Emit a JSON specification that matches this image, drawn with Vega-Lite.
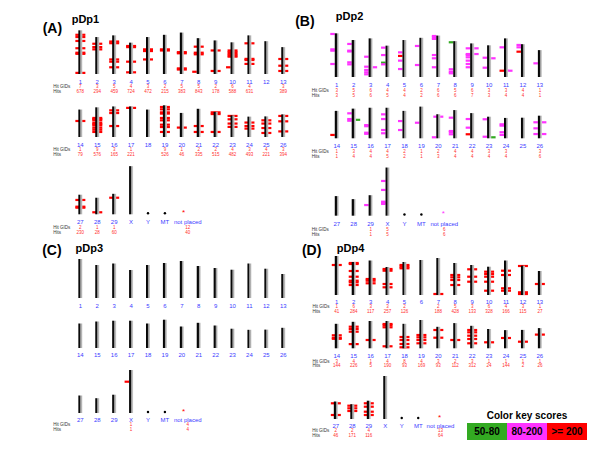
{
"$schema": "https://vega.github.io/schema/vega-lite/v6.json",
"padding": 0,
"background": "white",
"bounds": "flush",
"columns": 2,
"spacing": 0,
"config": {"view": {"stroke": null}, "concat": {"spacing": 0}},
"datasets": {
"chroms": [
{"r":1,"i":1,"v":39},{"r":1,"i":2,"v":33},{"r":1,"i":3,"v":34.5},{"r":1,"i":4,"v":28},{"r":1,"i":5,"v":33},{"r":1,"i":6,"v":35},{"r":1,"i":7,"v":37},{"r":1,"i":8,"v":32},{"r":1,"i":9,"v":30},{"r":1,"i":10,"v":28.3},{"r":1,"i":11,"v":34.5},{"r":1,"i":12,"v":29.3},{"r":1,"i":13,"v":24},
{"r":2,"i":1,"v":24.5},{"r":2,"i":2,"v":26.5},{"r":2,"i":3,"v":27.3},{"r":2,"i":4,"v":27.3},{"r":2,"i":5,"v":24.5},{"r":2,"i":6,"v":28.3},{"r":2,"i":7,"v":21.5},{"r":2,"i":8,"v":25.2},{"r":2,"i":9,"v":22.5},{"r":2,"i":10,"v":19.3},{"r":2,"i":11,"v":18.2},{"r":2,"i":12,"v":18.4},{"r":2,"i":13,"v":20.2},
{"r":3,"i":1,"v":17.5},{"r":3,"i":2,"v":14.8},{"r":3,"i":3,"v":18.3},{"r":3,"i":4,"v":43},{"r":3,"i":5,"v":0},{"r":3,"i":6,"v":0}
],
"names": [
{"r":1,"i":1,"t":"1"},{"r":1,"i":2,"t":"2"},{"r":1,"i":3,"t":"3"},{"r":1,"i":4,"t":"4"},{"r":1,"i":5,"t":"5"},{"r":1,"i":6,"t":"6"},{"r":1,"i":7,"t":"7"},{"r":1,"i":8,"t":"8"},{"r":1,"i":9,"t":"9"},{"r":1,"i":10,"t":"10"},{"r":1,"i":11,"t":"11"},{"r":1,"i":12,"t":"12"},{"r":1,"i":13,"t":"13"},
{"r":2,"i":1,"t":"14"},{"r":2,"i":2,"t":"15"},{"r":2,"i":3,"t":"16"},{"r":2,"i":4,"t":"17"},{"r":2,"i":5,"t":"18"},{"r":2,"i":6,"t":"19"},{"r":2,"i":7,"t":"20"},{"r":2,"i":8,"t":"21"},{"r":2,"i":9,"t":"22"},{"r":2,"i":10,"t":"23"},{"r":2,"i":11,"t":"24"},{"r":2,"i":12,"t":"25"},{"r":2,"i":13,"t":"26"},
{"r":3,"i":1,"t":"27"},{"r":3,"i":2,"t":"28"},{"r":3,"i":3,"t":"29"},{"r":3,"i":4,"t":"X"},{"r":3,"i":5,"t":"Y"},{"r":3,"i":6,"t":"MT"},{"r":3,"i":7.35,"t":"not placed"}
],
"counts": [
{"p":"A","r":1,"i":1,"g":"7","h":"678"},{"p":"A","r":1,"i":2,"g":"3","h":"294"},{"p":"A","r":1,"i":3,"g":"5","h":"459"},{"p":"A","r":1,"i":4,"g":"4","h":"724"},{"p":"A","r":1,"i":5,"g":"3","h":"472"},{"p":"A","r":1,"i":6,"g":"2","h":"215"},{"p":"A","r":1,"i":7,"g":"5","h":"383"},{"p":"A","r":1,"i":8,"g":"5","h":"843"},{"p":"A","r":1,"i":9,"g":"2","h":"178"},{"p":"A","r":1,"i":10,"g":"6","h":"588"},{"p":"A","r":1,"i":11,"g":"4","h":"631"},{"p":"A","r":1,"i":13,"g":"3","h":"389"},
{"p":"A","r":2,"i":1,"g":"1","h":"79"},{"p":"A","r":2,"i":2,"g":"9","h":"576"},{"p":"A","r":2,"i":3,"g":"3","h":"165"},{"p":"A","r":2,"i":4,"g":"1","h":"221"},{"p":"A","r":2,"i":6,"g":"9","h":"526"},{"p":"A","r":2,"i":7,"g":"1","h":"46"},{"p":"A","r":2,"i":8,"g":"2","h":"335"},{"p":"A","r":2,"i":9,"g":"2","h":"515"},{"p":"A","r":2,"i":10,"g":"4","h":"482"},{"p":"A","r":2,"i":11,"g":"3","h":"493"},{"p":"A","r":2,"i":12,"g":"4","h":"221"},{"p":"A","r":2,"i":13,"g":"3","h":"394"},
{"p":"A","r":3,"i":1,"g":"2","h":"230"},{"p":"A","r":3,"i":2,"g":"1","h":"28"},{"p":"A","r":3,"i":3,"g":"1","h":"60"},{"p":"A","r":3,"i":7.35,"g":"12","h":"40"},
{"p":"B","r":1,"i":1,"g":"3","h":"3"},{"p":"B","r":1,"i":2,"g":"5","h":"5"},{"p":"B","r":1,"i":3,"g":"6","h":"6"},{"p":"B","r":1,"i":4,"g":"4","h":"5"},{"p":"B","r":1,"i":5,"g":"4","h":"4"},{"p":"B","r":1,"i":6,"g":"2","h":"2"},{"p":"B","r":1,"i":7,"g":"6","h":"6"},{"p":"B","r":1,"i":8,"g":"5","h":"6"},{"p":"B","r":1,"i":9,"g":"6","h":"7"},{"p":"B","r":1,"i":10,"g":"3","h":"3"},{"p":"B","r":1,"i":11,"g":"3","h":"4"},{"p":"B","r":1,"i":12,"g":"4","h":"4"},{"p":"B","r":1,"i":13,"g":"1","h":"1"},
{"p":"B","r":2,"i":1,"g":"1","h":"1"},{"p":"B","r":2,"i":2,"g":"3","h":"4"},{"p":"B","r":2,"i":3,"g":"4","h":"4"},{"p":"B","r":2,"i":4,"g":"4","h":"5"},{"p":"B","r":2,"i":5,"g":"2","h":"2"},{"p":"B","r":2,"i":6,"g":"1","h":"1"},{"p":"B","r":2,"i":7,"g":"2","h":"3"},{"p":"B","r":2,"i":8,"g":"4","h":"4"},{"p":"B","r":2,"i":9,"g":"4","h":"4"},{"p":"B","r":2,"i":10,"g":"3","h":"4"},{"p":"B","r":2,"i":11,"g":"3","h":"4"},{"p":"B","r":2,"i":13,"g":"3","h":"6"},
{"p":"B","r":3,"i":3,"g":"1","h":"1"},{"p":"B","r":3,"i":4,"g":"5","h":"5"},{"p":"B","r":3,"i":7.35,"g":"6","h":"6"},
{"p":"C","r":3,"i":4,"g":"1","h":"1"},{"p":"C","r":3,"i":7.35,"g":"4","h":"4"},
{"p":"D","r":1,"i":1,"g":"1","h":"41"},{"p":"D","r":1,"i":2,"g":"6","h":"284"},{"p":"D","r":1,"i":3,"g":"3","h":"117"},{"p":"D","r":1,"i":4,"g":"3","h":"257"},{"p":"D","r":1,"i":5,"g":"2","h":"126"},{"p":"D","r":1,"i":7,"g":"2","h":"188"},{"p":"D","r":1,"i":8,"g":"5","h":"428"},{"p":"D","r":1,"i":9,"g":"3","h":"133"},{"p":"D","r":1,"i":10,"g":"6","h":"328"},{"p":"D","r":1,"i":11,"g":"4","h":"166"},{"p":"D","r":1,"i":12,"g":"3","h":"115"},{"p":"D","r":1,"i":13,"g":"1","h":"27"},
{"p":"D","r":2,"i":1,"g":"3","h":"144"},{"p":"D","r":2,"i":2,"g":"4","h":"226"},{"p":"D","r":2,"i":3,"g":"1","h":"5"},{"p":"D","r":2,"i":4,"g":"4","h":"190"},{"p":"D","r":2,"i":5,"g":"8","h":"93"},{"p":"D","r":2,"i":6,"g":"4","h":"169"},{"p":"D","r":2,"i":7,"g":"3","h":"93"},{"p":"D","r":2,"i":8,"g":"2","h":"112"},{"p":"D","r":2,"i":9,"g":"3","h":"312"},{"p":"D","r":2,"i":10,"g":"1","h":"24"},{"p":"D","r":2,"i":11,"g":"1","h":"144"},{"p":"D","r":2,"i":12,"g":"1","h":"2"},{"p":"D","r":2,"i":13,"g":"1","h":"26"},
{"p":"D","r":3,"i":1,"g":"2","h":"46"},{"p":"D","r":3,"i":2,"g":"2","h":"171"},{"p":"D","r":3,"i":3,"g":"4","h":"116"},{"p":"D","r":3,"i":7.35,"g":"13","h":"64"}
],
"hits": [
{"p":"A","r":1,"i":1,"v":35,"s":"B","c":"r"},{"p":"A","r":1,"i":1,"v":33,"s":"B","c":"r"},{"p":"A","r":1,"i":1,"v":29.5,"s":"B","c":"r"},{"p":"A","r":1,"i":1,"v":23,"s":"B","c":"r"},{"p":"A","r":1,"i":1,"v":19,"s":"B","c":"r"},{"p":"A","r":1,"i":1,"v":18,"s":"B","c":"r"},{"p":"A","r":1,"i":1,"v":1,"s":"B","c":"r"},
{"p":"A","r":1,"i":2,"v":27,"s":"B","c":"r"},{"p":"A","r":1,"i":2,"v":24,"s":"B","c":"r"},{"p":"A","r":1,"i":2,"v":22,"s":"B","c":"r"},
{"p":"A","r":1,"i":3,"v":29,"s":"B","c":"r"},{"p":"A","r":1,"i":3,"v":27.5,"s":"B","c":"r"},{"p":"A","r":1,"i":3,"v":13,"s":"B","c":"r"},{"p":"A","r":1,"i":3,"v":11,"s":"B","c":"r"},{"p":"A","r":1,"i":3,"v":6,"s":"B","c":"r"},
{"p":"A","r":1,"i":4,"v":25,"s":"B","c":"r"},{"p":"A","r":1,"i":4,"v":24,"s":"B","c":"r"},{"p":"A","r":1,"i":4,"v":11,"s":"B","c":"r"},{"p":"A","r":1,"i":4,"v":1.5,"s":"B","c":"r"},
{"p":"A","r":1,"i":5,"v":22,"s":"B","c":"r"},{"p":"A","r":1,"i":5,"v":20.5,"s":"B","c":"r"},{"p":"A","r":1,"i":5,"v":13,"s":"B","c":"r"},
{"p":"A","r":1,"i":6,"v":22,"s":"B","c":"r"},{"p":"A","r":1,"i":6,"v":21,"s":"B","c":"r"},
{"p":"A","r":1,"i":7,"v":19.5,"s":"B","c":"r"},{"p":"A","r":1,"i":7,"v":18.5,"s":"B","c":"r"},{"p":"A","r":1,"i":7,"v":5,"s":"B","c":"r"},{"p":"A","r":1,"i":7,"v":4,"s":"B","c":"r"},
{"p":"A","r":1,"i":8,"v":24.4,"s":"B","c":"r"},{"p":"A","r":1,"i":8,"v":19,"s":"B","c":"r"},{"p":"A","r":1,"i":8,"v":17.6,"s":"B","c":"r"},{"p":"A","r":1,"i":8,"v":2,"s":"L","c":"r"},
{"p":"A","r":1,"i":9,"v":21,"s":"B","c":"r"},{"p":"A","r":1,"i":9,"v":2.7,"s":"B","c":"r"},
{"p":"A","r":1,"i":10,"v":21,"s":"B","c":"r"},{"p":"A","r":1,"i":10,"v":19.5,"s":"B","c":"r"},{"p":"A","r":1,"i":10,"v":18,"s":"B","c":"r"},{"p":"A","r":1,"i":10,"v":16.5,"s":"B","c":"r"},{"p":"A","r":1,"i":10,"v":15.5,"s":"B","c":"r"},{"p":"A","r":1,"i":10,"v":6,"s":"L","c":"r"},
{"p":"A","r":1,"i":11,"v":27.4,"s":"B","c":"r"},{"p":"A","r":1,"i":11,"v":13.5,"s":"B","c":"r"},{"p":"A","r":1,"i":11,"v":12.5,"s":"B","c":"r"},{"p":"A","r":1,"i":11,"v":9,"s":"B","c":"r"},
{"p":"A","r":1,"i":13,"v":13.4,"s":"B","c":"r"},{"p":"A","r":1,"i":13,"v":7.4,"s":"B","c":"r"},{"p":"A","r":1,"i":13,"v":2.7,"s":"B","c":"r"},
{"p":"A","r":2,"i":1,"v":14.3,"s":"B","c":"r"},
{"p":"A","r":2,"i":2,"v":17,"s":"B","c":"r"},{"p":"A","r":2,"i":2,"v":16,"s":"B","c":"r"},{"p":"A","r":2,"i":2,"v":15,"s":"B","c":"r"},{"p":"A","r":2,"i":2,"v":12.8,"s":"B","c":"r"},{"p":"A","r":2,"i":2,"v":11.5,"s":"B","c":"r"},{"p":"A","r":2,"i":2,"v":10.4,"s":"B","c":"r"},{"p":"A","r":2,"i":2,"v":8.3,"s":"B","c":"r"},{"p":"A","r":2,"i":2,"v":6.5,"s":"B","c":"r"},{"p":"A","r":2,"i":2,"v":4.5,"s":"B","c":"r"},
{"p":"A","r":2,"i":3,"v":23.8,"s":"B","c":"r"},{"p":"A","r":2,"i":3,"v":21.4,"s":"B","c":"r"},{"p":"A","r":2,"i":3,"v":9.8,"s":"B","c":"r"},
{"p":"A","r":2,"i":4,"v":26,"s":"B","c":"r"},
{"p":"A","r":2,"i":6,"v":26.8,"s":"B","c":"r"},{"p":"A","r":2,"i":6,"v":24.7,"s":"B","c":"r"},{"p":"A","r":2,"i":6,"v":22,"s":"B","c":"r"},{"p":"A","r":2,"i":6,"v":20.9,"s":"B","c":"r"},{"p":"A","r":2,"i":6,"v":17,"s":"B","c":"r"},{"p":"A","r":2,"i":6,"v":14.9,"s":"B","c":"r"},{"p":"A","r":2,"i":6,"v":11,"s":"B","c":"r"},{"p":"A","r":2,"i":6,"v":8.9,"s":"B","c":"r"},{"p":"A","r":2,"i":6,"v":4.5,"s":"B","c":"r"},
{"p":"A","r":2,"i":7,"v":8.4,"s":"B","c":"r"},
{"p":"A","r":2,"i":8,"v":9.8,"s":"B","c":"r"},{"p":"A","r":2,"i":8,"v":4.5,"s":"B","c":"r"},
{"p":"A","r":2,"i":9,"v":22,"s":"B","c":"r"},{"p":"A","r":2,"i":9,"v":20.5,"s":"B","c":"r"},{"p":"A","r":2,"i":9,"v":4.5,"s":"B","c":"r"},
{"p":"A","r":2,"i":10,"v":18.8,"s":"B","c":"r"},{"p":"A","r":2,"i":10,"v":15.8,"s":"B","c":"r"},{"p":"A","r":2,"i":10,"v":12,"s":"B","c":"r"},{"p":"A","r":2,"i":10,"v":9,"s":"B","c":"r"},
{"p":"A","r":2,"i":11,"v":12.9,"s":"B","c":"r"},{"p":"A","r":2,"i":11,"v":9.8,"s":"B","c":"r"},{"p":"A","r":2,"i":11,"v":7.5,"s":"B","c":"r"},
{"p":"A","r":2,"i":12,"v":14.9,"s":"B","c":"r"},{"p":"A","r":2,"i":12,"v":12,"s":"B","c":"r"},{"p":"A","r":2,"i":12,"v":8,"s":"B","c":"r"},{"p":"A","r":2,"i":12,"v":3.6,"s":"B","c":"r"},
{"p":"A","r":2,"i":13,"v":18.8,"s":"B","c":"r"},{"p":"A","r":2,"i":13,"v":14,"s":"B","c":"r"},{"p":"A","r":2,"i":13,"v":5,"s":"B","c":"r"},
{"p":"A","r":3,"i":1,"v":12.8,"s":"B","c":"r"},{"p":"A","r":3,"i":1,"v":6.8,"s":"B","c":"r"},{"p":"A","r":3,"i":1,"v":5.9,"s":"B","c":"r"},{"p":"A","r":3,"i":2,"v":1.8,"s":"B","c":"r"},{"p":"A","r":3,"i":3,"v":14.8,"s":"B","c":"r"},
{"p":"A","r":3,"i":7.1,"v":1.5,"s":"*","c":"r"},
{"p":"B","r":1,"i":1,"v":38.4,"s":"L","c":"m"},{"p":"B","r":1,"i":1,"v":24.7,"s":"L","c":"m"},{"p":"B","r":1,"i":1,"v":23.5,"s":"L","c":"m"},{"p":"B","r":1,"i":1,"v":11.6,"s":"L","c":"m"},
{"p":"B","r":1,"i":2,"v":29.5,"s":"L","c":"m"},{"p":"B","r":1,"i":2,"v":23.5,"s":"L","c":"m"},{"p":"B","r":1,"i":2,"v":22.8,"s":"L","c":"m"},{"p":"B","r":1,"i":2,"v":13.1,"s":"L","c":"m"},{"p":"B","r":1,"i":2,"v":11.3,"s":"L","c":"m"},
{"p":"B","r":1,"i":3,"v":18.1,"s":"L","c":"m"},{"p":"B","r":1,"i":3,"v":9.2,"s":"L","c":"m"},{"p":"B","r":1,"i":3,"v":8.7,"s":"R","c":"m"},{"p":"B","r":1,"i":3,"v":6.3,"s":"L","c":"m"},{"p":"B","r":1,"i":3,"v":4.2,"s":"L","c":"m"},{"p":"B","r":1,"i":3,"v":2.4,"s":"L","c":"m"},
{"p":"B","r":1,"i":4,"v":26.2,"s":"L","c":"m"},{"p":"B","r":1,"i":4,"v":19.6,"s":"L","c":"m"},{"p":"B","r":1,"i":4,"v":12.8,"s":"L","c":"g"},{"p":"B","r":1,"i":4,"v":11.3,"s":"L","c":"m"},
{"p":"B","r":1,"i":5,"v":22,"s":"L","c":"m"},{"p":"B","r":1,"i":5,"v":18.8,"s":"L","c":"r"},{"p":"B","r":1,"i":5,"v":14.6,"s":"L","c":"m"},{"p":"B","r":1,"i":5,"v":7.1,"s":"L","c":"m"},
{"p":"B","r":1,"i":6,"v":27.7,"s":"L","c":"m"},{"p":"B","r":1,"i":6,"v":10.7,"s":"L","c":"m"},
{"p":"B","r":1,"i":7,"v":36.6,"s":"L","c":"m"},{"p":"B","r":1,"i":7,"v":35.4,"s":"L","c":"m"},{"p":"B","r":1,"i":7,"v":34,"s":"L","c":"m"},{"p":"B","r":1,"i":7,"v":19.6,"s":"L","c":"m"},{"p":"B","r":1,"i":7,"v":16.7,"s":"L","c":"m"},{"p":"B","r":1,"i":7,"v":8.7,"s":"L","c":"m"},
{"p":"B","r":1,"i":8,"v":31,"s":"L","c":"g"},{"p":"B","r":1,"i":8,"v":6.9,"s":"L","c":"m"},{"p":"B","r":1,"i":8,"v":4.7,"s":"L","c":"m"},{"p":"B","r":1,"i":8,"v":3.3,"s":"L","c":"m"},
{"p":"B","r":1,"i":9,"v":25.6,"s":"L","c":"m"},{"p":"B","r":1,"i":9,"v":25.6,"s":"R","c":"m"},{"p":"B","r":1,"i":9,"v":20.5,"s":"L","c":"m"},{"p":"B","r":1,"i":9,"v":20.5,"s":"R","c":"m"},{"p":"B","r":1,"i":9,"v":19.6,"s":"L","c":"m"},{"p":"B","r":1,"i":9,"v":17.6,"s":"L","c":"m"},{"p":"B","r":1,"i":9,"v":14.6,"s":"L","c":"m"},{"p":"B","r":1,"i":9,"v":11.6,"s":"L","c":"m"},{"p":"B","r":1,"i":9,"v":8.7,"s":"L","c":"m"},
{"p":"B","r":1,"i":10,"v":17.2,"s":"L","c":"m"},{"p":"B","r":1,"i":10,"v":16.7,"s":"R","c":"m"},{"p":"B","r":1,"i":10,"v":8.3,"s":"L","c":"m"},
{"p":"B","r":1,"i":11,"v":26.5,"s":"L","c":"m"},{"p":"B","r":1,"i":11,"v":5.6,"s":"L","c":"r"},{"p":"B","r":1,"i":11,"v":5.6,"s":"R","c":"m"},
{"p":"B","r":1,"i":12,"v":28.6,"s":"L","c":"m"},{"p":"B","r":1,"i":12,"v":26.5,"s":"L","c":"m"},{"p":"B","r":1,"i":12,"v":22.6,"s":"L","c":"r"},
{"p":"B","r":1,"i":13,"v":12.2,"s":"L","c":"m"},
{"p":"B","r":2,"i":1,"v":3,"s":"L","c":"r"},
{"p":"B","r":2,"i":2,"v":22.3,"s":"L","c":"m"},{"p":"B","r":2,"i":2,"v":17.2,"s":"L","c":"m"},{"p":"B","r":2,"i":2,"v":15.7,"s":"L","c":"m"},{"p":"B","r":2,"i":2,"v":16.5,"s":"R","c":"g"},
{"p":"B","r":2,"i":3,"v":11.8,"s":"L","c":"m"},{"p":"B","r":2,"i":3,"v":10.8,"s":"L","c":"m"},{"p":"B","r":2,"i":3,"v":5,"s":"L","c":"m"},{"p":"B","r":2,"i":3,"v":4,"s":"L","c":"m"},
{"p":"B","r":2,"i":4,"v":21.4,"s":"L","c":"m"},{"p":"B","r":2,"i":4,"v":17.2,"s":"L","c":"m"},{"p":"B","r":2,"i":4,"v":7.4,"s":"L","c":"m"},{"p":"B","r":2,"i":4,"v":4.5,"s":"L","c":"m"},
{"p":"B","r":2,"i":5,"v":15.4,"s":"L","c":"m"},{"p":"B","r":2,"i":5,"v":7.4,"s":"L","c":"m"},
{"p":"B","r":2,"i":6,"v":13.9,"s":"L","c":"m"},
{"p":"B","r":2,"i":7,"v":19.3,"s":"B","c":"m"},{"p":"B","r":2,"i":7,"v":0.9,"s":"L","c":"m"},
{"p":"B","r":2,"i":8,"v":18.4,"s":"L","c":"m"},{"p":"B","r":2,"i":8,"v":6.5,"s":"L","c":"m"},{"p":"B","r":2,"i":8,"v":5.5,"s":"L","c":"m"},{"p":"B","r":2,"i":8,"v":3.6,"s":"L","c":"m"},
{"p":"B","r":2,"i":9,"v":17.2,"s":"L","c":"m"},{"p":"B","r":2,"i":9,"v":9.5,"s":"L","c":"m"},{"p":"B","r":2,"i":9,"v":3.6,"s":"L","c":"r"},
{"p":"B","r":2,"i":10,"v":17,"s":"L","c":"m"},{"p":"B","r":2,"i":10,"v":1.4,"s":"L","c":"m"},{"p":"B","r":2,"i":10,"v":0.9,"s":"R","c":"g"},
{"p":"B","r":2,"i":11,"v":12.5,"s":"L","c":"m"},{"p":"B","r":2,"i":11,"v":11.3,"s":"L","c":"m"},{"p":"B","r":2,"i":11,"v":5.4,"s":"L","c":"m"},{"p":"B","r":2,"i":11,"v":3,"s":"L","c":"m"},
{"p":"B","r":2,"i":13,"v":14.3,"s":"L","c":"m"},{"p":"B","r":2,"i":13,"v":14.3,"s":"R","c":"m"},{"p":"B","r":2,"i":13,"v":8.9,"s":"L","c":"m"},{"p":"B","r":2,"i":13,"v":3.8,"s":"L","c":"m"},{"p":"B","r":2,"i":13,"v":3.8,"s":"R","c":"m"},
{"p":"B","r":3,"i":3,"v":9.5,"s":"L","c":"m"},
{"p":"B","r":3,"i":4,"v":31,"s":"L","c":"m"},{"p":"B","r":3,"i":4,"v":23,"s":"L","c":"m"},{"p":"B","r":3,"i":4,"v":12.5,"s":"L","c":"m"},{"p":"B","r":3,"i":4,"v":11.5,"s":"L","c":"m"},{"p":"B","r":3,"i":4,"v":10.5,"s":"L","c":"m"},
{"p":"B","r":3,"i":7.3,"v":1.5,"s":"*","c":"m"},
{"p":"C","r":3,"i":4,"v":31.3,"s":"L","c":"r"},
{"p":"C","r":3,"i":7.1,"v":1.5,"s":"*","c":"r"},
{"p":"D","r":1,"i":1,"v":30,"s":"B","c":"r"},
{"p":"D","r":1,"i":2,"v":32,"s":"B","c":"r"},{"p":"D","r":1,"i":2,"v":31,"s":"B","c":"r"},{"p":"D","r":1,"i":2,"v":24,"s":"B","c":"r"},{"p":"D","r":1,"i":2,"v":18.3,"s":"B","c":"r"},{"p":"D","r":1,"i":2,"v":14.3,"s":"B","c":"r"},{"p":"D","r":1,"i":2,"v":12.7,"s":"B","c":"r"},{"p":"D","r":1,"i":2,"v":10,"s":"B","c":"r"},
{"p":"D","r":1,"i":3,"v":16,"s":"B","c":"r"},{"p":"D","r":1,"i":3,"v":14.3,"s":"B","c":"r"},{"p":"D","r":1,"i":3,"v":11.7,"s":"B","c":"r"},
{"p":"D","r":1,"i":4,"v":26,"s":"B","c":"r"},{"p":"D","r":1,"i":4,"v":24.3,"s":"B","c":"r"},{"p":"D","r":1,"i":4,"v":11,"s":"B","c":"r"},{"p":"D","r":1,"i":4,"v":7.7,"s":"B","c":"r"},
{"p":"D","r":1,"i":5,"v":30,"s":"B","c":"r"},{"p":"D","r":1,"i":5,"v":28.3,"s":"B","c":"r"},{"p":"D","r":1,"i":5,"v":26.7,"s":"B","c":"r"},
{"p":"D","r":1,"i":7,"v":1,"s":"B","c":"r"},
{"p":"D","r":1,"i":8,"v":20,"s":"B","c":"r"},{"p":"D","r":1,"i":8,"v":17.7,"s":"B","c":"r"},{"p":"D","r":1,"i":8,"v":15,"s":"B","c":"r"},{"p":"D","r":1,"i":8,"v":10,"s":"B","c":"r"},
{"p":"D","r":1,"i":9,"v":25.7,"s":"B","c":"r"},{"p":"D","r":1,"i":9,"v":18.3,"s":"B","c":"r"},{"p":"D","r":1,"i":9,"v":13.3,"s":"B","c":"r"},
{"p":"D","r":1,"i":10,"v":23.3,"s":"B","c":"r"},{"p":"D","r":1,"i":10,"v":21,"s":"B","c":"r"},{"p":"D","r":1,"i":10,"v":18.3,"s":"B","c":"r"},{"p":"D","r":1,"i":10,"v":13.3,"s":"B","c":"r"},{"p":"D","r":1,"i":10,"v":4.3,"s":"B","c":"r"},
{"p":"D","r":1,"i":11,"v":24.3,"s":"B","c":"r"},{"p":"D","r":1,"i":11,"v":20,"s":"B","c":"r"},{"p":"D","r":1,"i":11,"v":6.7,"s":"B","c":"r"},{"p":"D","r":1,"i":11,"v":4.3,"s":"B","c":"r"},
{"p":"D","r":1,"i":12,"v":29,"s":"B","c":"r"},{"p":"D","r":1,"i":12,"v":2.7,"s":"B","c":"r"},{"p":"D","r":1,"i":12,"v":1,"s":"B","c":"r"},
{"p":"D","r":1,"i":13,"v":11,"s":"B","c":"r"},
{"p":"D","r":2,"i":1,"v":13,"s":"B","c":"r"},{"p":"D","r":2,"i":1,"v":10.5,"s":"B","c":"r"},{"p":"D","r":2,"i":1,"v":9.5,"s":"B","c":"r"},
{"p":"D","r":2,"i":2,"v":21.6,"s":"B","c":"r"},{"p":"D","r":2,"i":2,"v":19.3,"s":"B","c":"r"},{"p":"D","r":2,"i":2,"v":16.6,"s":"B","c":"r"},{"p":"D","r":2,"i":2,"v":4.2,"s":"B","c":"r"},
{"p":"D","r":2,"i":3,"v":8.3,"s":"B","c":"r"},
{"p":"D","r":2,"i":4,"v":24.3,"s":"B","c":"r"},{"p":"D","r":2,"i":4,"v":23,"s":"B","c":"r"},{"p":"D","r":2,"i":4,"v":21,"s":"B","c":"r"},{"p":"D","r":2,"i":4,"v":2,"s":"B","c":"r"},
{"p":"D","r":2,"i":5,"v":11.3,"s":"B","c":"r"},{"p":"D","r":2,"i":5,"v":8.3,"s":"B","c":"r"},{"p":"D","r":2,"i":5,"v":4.3,"s":"B","c":"r"},{"p":"D","r":2,"i":5,"v":1,"s":"B","c":"r"},
{"p":"D","r":2,"i":6,"v":13.3,"s":"B","c":"r"},{"p":"D","r":2,"i":6,"v":11,"s":"B","c":"r"},{"p":"D","r":2,"i":6,"v":8.3,"s":"B","c":"r"},{"p":"D","r":2,"i":6,"v":5,"s":"B","c":"r"},
{"p":"D","r":2,"i":7,"v":18.3,"s":"B","c":"r"},{"p":"D","r":2,"i":7,"v":10.6,"s":"B","c":"r"},
{"p":"D","r":2,"i":8,"v":8.3,"s":"B","c":"r"},
{"p":"D","r":2,"i":9,"v":18.3,"s":"B","c":"r"},{"p":"D","r":2,"i":9,"v":16,"s":"B","c":"r"},{"p":"D","r":2,"i":9,"v":12.6,"s":"B","c":"r"},{"p":"D","r":2,"i":9,"v":9.3,"s":"B","c":"r"},{"p":"D","r":2,"i":9,"v":5,"s":"B","c":"r"},
{"p":"D","r":2,"i":10,"v":6,"s":"B","c":"r"},
{"p":"D","r":2,"i":11,"v":10.3,"s":"B","c":"r"},
{"p":"D","r":2,"i":12,"v":6.6,"s":"B","c":"r"},
{"p":"D","r":2,"i":13,"v":13.7,"s":"B","c":"r"},
{"p":"D","r":3,"i":1,"v":15.7,"s":"B","c":"r"},{"p":"D","r":3,"i":1,"v":4,"s":"B","c":"r"},
{"p":"D","r":3,"i":2,"v":13.3,"s":"B","c":"r"},{"p":"D","r":3,"i":2,"v":10.7,"s":"B","c":"r"},{"p":"D","r":3,"i":2,"v":8,"s":"B","c":"r"},
{"p":"D","r":3,"i":3,"v":15.7,"s":"B","c":"r"},{"p":"D","r":3,"i":3,"v":12.3,"s":"B","c":"r"},{"p":"D","r":3,"i":3,"v":7.3,"s":"B","c":"r"},{"p":"D","r":3,"i":3,"v":4,"s":"B","c":"r"},
{"p":"D","r":3,"i":7.3,"v":1.5,"s":"*","c":"r"}
],
"keys": [{"k":"50-80","c":"g"},{"k":"80-200","c":"m"},{"k":">= 200","c":"r"}]
},
"concat": [
{"width":296,"height":100,
 "layer":[
  {"data":{"name":"hits"},"transform":[{"filter":"datum.p=='A'&&datum.r==1&&datum.s!='*'"}],"mark":{"type":"point","filled":true,"size":100,"opacity":1,"strokeWidth":0},"encoding":{"x":{"field":"i","type":"quantitative","scale":{"domain":[-3.457,13.457],"nice":false,"zero":false},"axis":null},"y":{"field":"v","type":"quantitative","scale":{"domain":[-23.21,66.07],"nice":false,"zero":false},"axis":null},"shape":{"field":"s","type":"nominal","scale":{"domain":["L","R","B"],"range":["M-1.3,-0.22H-0.4V0.22H-1.3Z","M0.4,-0.22H1.3V0.22H0.4Z","M-1,-0.22H1V0.22H-1Z"]},"legend":null},"color":{"field":"c","type":"nominal","scale":{"domain":["g","m","r"],"range":["#33aa22","#ff33ff","#ff0000"]},"legend":null}}},
  {"data":{"name":"chroms"},"transform":[{"filter":"datum.r==1&&datum.v>0"}],"mark":{"type":"bar","width":4,"color":{"gradient":"linear","x1":0,"y1":0,"x2":1,"y2":0,"stops":[{"offset":0,"color":"#000000"},{"offset":0.45,"color":"#111111"},{"offset":0.5,"color":"#8a8a8a"},{"offset":1,"color":"#d4d4d4"}]}},"encoding":{"x":{"field":"i","type":"quantitative","scale":{"domain":[-3.457,13.457],"nice":false,"zero":false},"axis":null},"y":{"field":"v","type":"quantitative","scale":{"domain":[-23.21,66.07],"nice":false,"zero":false},"axis":null},"y2":{"datum":0}}},
  {"data":{"name":"names"},"transform":[{"filter":"datum.r==1"}],"mark":{"type":"text","fontSize":6,"color":"#3c3cff","baseline":"middle","font":"Liberation Sans"},"encoding":{"x":{"field":"i","type":"quantitative","scale":{"domain":[-3.457,13.457],"nice":false,"zero":false},"axis":null},"y":{"datum":-7.1,"type":"quantitative","scale":{"domain":[-23.21,66.07],"nice":false,"zero":false},"axis":null},"text":{"field":"t","type":"nominal"}}},
  {"data":{"name":"counts"},"transform":[{"filter":"datum.p=='A'&&datum.r==1"}],"mark":{"type":"text","fontSize":4.5,"color":"#ff3030","baseline":"middle","font":"Liberation Sans"},"encoding":{"x":{"field":"i","type":"quantitative","scale":{"domain":[-3.457,13.457],"nice":false,"zero":false},"axis":null},"y":{"datum":-11.9,"type":"quantitative","scale":{"domain":[-23.21,66.07],"nice":false,"zero":false},"axis":null},"text":{"field":"g","type":"nominal"}}},
  {"data":{"name":"counts"},"transform":[{"filter":"datum.p=='A'&&datum.r==1"}],"mark":{"type":"text","fontSize":4.5,"color":"#ff3030","baseline":"middle","font":"Liberation Sans"},"encoding":{"x":{"field":"i","type":"quantitative","scale":{"domain":[-3.457,13.457],"nice":false,"zero":false},"axis":null},"y":{"datum":-16.3,"type":"quantitative","scale":{"domain":[-23.21,66.07],"nice":false,"zero":false},"axis":null},"text":{"field":"h","type":"nominal"}}},
  {"data":{"values":[{}]},"mark":{"type":"text","text":"Hit GIDs","fontSize":4.5,"color":"#333333","align":"left","baseline":"middle","font":"Liberation Sans"},"encoding":{"x":{"datum":-0.6,"type":"quantitative","scale":{"domain":[-3.457,13.457],"nice":false,"zero":false},"axis":null},"y":{"datum":-11.9,"type":"quantitative","scale":{"domain":[-23.21,66.07],"nice":false,"zero":false},"axis":null}}},
  {"data":{"values":[{}]},"mark":{"type":"text","text":"Hits","fontSize":4.5,"color":"#333333","align":"left","baseline":"middle","font":"Liberation Sans"},"encoding":{"x":{"datum":-0.6,"type":"quantitative","scale":{"domain":[-3.457,13.457],"nice":false,"zero":false},"axis":null},"y":{"datum":-16.3,"type":"quantitative","scale":{"domain":[-23.21,66.07],"nice":false,"zero":false},"axis":null}}},
  {"data":{"values":[{}]},"mark":{"type":"text","text":"(A)","fontSize":14,"fontWeight":"bold","color":"#000000","baseline":"middle","font":"Liberation Sans"},"encoding":{"x":{"datum":-0.657,"type":"quantitative","scale":{"domain":[-3.457,13.457],"nice":false,"zero":false},"axis":null},"y":{"datum":40.2,"type":"quantitative","scale":{"domain":[-23.21,66.07],"nice":false,"zero":false},"axis":null}}},
  {"data":{"values":[{}]},"mark":{"type":"text","text":"pDp1","fontSize":11,"fontWeight":"bold","color":"#000000","align":"left","baseline":"alphabetic","font":"Liberation Sans"},"encoding":{"x":{"datum":0.486,"type":"quantitative","scale":{"domain":[-3.457,13.457],"nice":false,"zero":false},"axis":null},"y":{"datum":45.5,"type":"quantitative","scale":{"domain":[-23.21,66.07],"nice":false,"zero":false},"axis":null}}}
 ]},
{"width":304,"height":100,
 "layer":[
  {"data":{"name":"hits"},"transform":[{"filter":"datum.p=='B'&&datum.r==1&&datum.s!='*'"}],"mark":{"type":"point","filled":true,"size":100,"opacity":1,"strokeWidth":0},"encoding":{"x":{"field":"i","type":"quantitative","scale":{"domain":[-1.114,16.257],"nice":false,"zero":false},"axis":null},"y":{"field":"v","type":"quantitative","scale":{"domain":[-20.54,68.75],"nice":false,"zero":false},"axis":null},"shape":{"field":"s","type":"nominal","scale":{"domain":["L","R","B"],"range":["M-1.3,-0.22H-0.4V0.22H-1.3Z","M0.4,-0.22H1.3V0.22H0.4Z","M-1,-0.22H1V0.22H-1Z"]},"legend":null},"color":{"field":"c","type":"nominal","scale":{"domain":["g","m","r"],"range":["#33aa22","#ff33ff","#ff0000"]},"legend":null}}},
  {"data":{"name":"chroms"},"transform":[{"filter":"datum.r==1&&datum.v>0"}],"mark":{"type":"bar","width":4,"color":{"gradient":"linear","x1":0,"y1":0,"x2":1,"y2":0,"stops":[{"offset":0,"color":"#000000"},{"offset":0.45,"color":"#111111"},{"offset":0.5,"color":"#8a8a8a"},{"offset":1,"color":"#d4d4d4"}]}},"encoding":{"x":{"field":"i","type":"quantitative","scale":{"domain":[-1.114,16.257],"nice":false,"zero":false},"axis":null},"y":{"field":"v","type":"quantitative","scale":{"domain":[-20.54,68.75],"nice":false,"zero":false},"axis":null},"y2":{"datum":0}}},
  {"data":{"name":"names"},"transform":[{"filter":"datum.r==1"}],"mark":{"type":"text","fontSize":6,"color":"#3c3cff","baseline":"middle","font":"Liberation Sans"},"encoding":{"x":{"field":"i","type":"quantitative","scale":{"domain":[-1.114,16.257],"nice":false,"zero":false},"axis":null},"y":{"datum":-7.1,"type":"quantitative","scale":{"domain":[-20.54,68.75],"nice":false,"zero":false},"axis":null},"text":{"field":"t","type":"nominal"}}},
  {"data":{"name":"counts"},"transform":[{"filter":"datum.p=='B'&&datum.r==1"}],"mark":{"type":"text","fontSize":4.5,"color":"#ff3030","baseline":"middle","font":"Liberation Sans"},"encoding":{"x":{"field":"i","type":"quantitative","scale":{"domain":[-1.114,16.257],"nice":false,"zero":false},"axis":null},"y":{"datum":-12.5,"type":"quantitative","scale":{"domain":[-20.54,68.75],"nice":false,"zero":false},"axis":null},"text":{"field":"g","type":"nominal"}}},
  {"data":{"name":"counts"},"transform":[{"filter":"datum.p=='B'&&datum.r==1"}],"mark":{"type":"text","fontSize":4.5,"color":"#ff3030","baseline":"middle","font":"Liberation Sans"},"encoding":{"x":{"field":"i","type":"quantitative","scale":{"domain":[-1.114,16.257],"nice":false,"zero":false},"axis":null},"y":{"datum":-17,"type":"quantitative","scale":{"domain":[-20.54,68.75],"nice":false,"zero":false},"axis":null},"text":{"field":"h","type":"nominal"}}},
  {"data":{"values":[{}]},"mark":{"type":"text","text":"Hit GIDs","fontSize":4.5,"color":"#333333","align":"left","baseline":"middle","font":"Liberation Sans"},"encoding":{"x":{"datum":-0.486,"type":"quantitative","scale":{"domain":[-1.114,16.257],"nice":false,"zero":false},"axis":null},"y":{"datum":-12.5,"type":"quantitative","scale":{"domain":[-20.54,68.75],"nice":false,"zero":false},"axis":null}}},
  {"data":{"values":[{}]},"mark":{"type":"text","text":"Hits","fontSize":4.5,"color":"#333333","align":"left","baseline":"middle","font":"Liberation Sans"},"encoding":{"x":{"datum":-0.486,"type":"quantitative","scale":{"domain":[-1.114,16.257],"nice":false,"zero":false},"axis":null},"y":{"datum":-17,"type":"quantitative","scale":{"domain":[-20.54,68.75],"nice":false,"zero":false},"axis":null}}},
  {"data":{"values":[{}]},"mark":{"type":"text","text":"(B)","fontSize":14,"fontWeight":"bold","color":"#000000","baseline":"middle","font":"Liberation Sans"},"encoding":{"x":{"datum":-0.885,"type":"quantitative","scale":{"domain":[-1.114,16.257],"nice":false,"zero":false},"axis":null},"y":{"datum":49.1,"type":"quantitative","scale":{"domain":[-20.54,68.75],"nice":false,"zero":false},"axis":null}}},
  {"data":{"values":[{}]},"mark":{"type":"text","text":"pDp2","fontSize":11,"fontWeight":"bold","color":"#000000","align":"left","baseline":"alphabetic","font":"Liberation Sans"},"encoding":{"x":{"datum":0.943,"type":"quantitative","scale":{"domain":[-1.114,16.257],"nice":false,"zero":false},"axis":null},"y":{"datum":50.9,"type":"quantitative","scale":{"domain":[-20.54,68.75],"nice":false,"zero":false},"axis":null}}}
 ]},
{"width":296,"height":62,
 "layer":[
  {"data":{"name":"hits"},"transform":[{"filter":"datum.p=='A'&&datum.r==2&&datum.s!='*'"}],"mark":{"type":"point","filled":true,"size":100,"opacity":1,"strokeWidth":0},"encoding":{"x":{"field":"i","type":"quantitative","scale":{"domain":[-3.457,13.457],"nice":false,"zero":false},"axis":null},"y":{"field":"v","type":"quantitative","scale":{"domain":[-22.32,33.04],"nice":false,"zero":false},"axis":null},"shape":{"field":"s","type":"nominal","scale":{"domain":["L","R","B"],"range":["M-1.3,-0.22H-0.4V0.22H-1.3Z","M0.4,-0.22H1.3V0.22H0.4Z","M-1,-0.22H1V0.22H-1Z"]},"legend":null},"color":{"field":"c","type":"nominal","scale":{"domain":["g","m","r"],"range":["#33aa22","#ff33ff","#ff0000"]},"legend":null}}},
  {"data":{"name":"chroms"},"transform":[{"filter":"datum.r==2&&datum.v>0"}],"mark":{"type":"bar","width":4,"color":{"gradient":"linear","x1":0,"y1":0,"x2":1,"y2":0,"stops":[{"offset":0,"color":"#000000"},{"offset":0.45,"color":"#111111"},{"offset":0.5,"color":"#8a8a8a"},{"offset":1,"color":"#d4d4d4"}]}},"encoding":{"x":{"field":"i","type":"quantitative","scale":{"domain":[-3.457,13.457],"nice":false,"zero":false},"axis":null},"y":{"field":"v","type":"quantitative","scale":{"domain":[-22.32,33.04],"nice":false,"zero":false},"axis":null},"y2":{"datum":0}}},
  {"data":{"name":"names"},"transform":[{"filter":"datum.r==2"}],"mark":{"type":"text","fontSize":6,"color":"#3c3cff","baseline":"middle","font":"Liberation Sans"},"encoding":{"x":{"field":"i","type":"quantitative","scale":{"domain":[-3.457,13.457],"nice":false,"zero":false},"axis":null},"y":{"datum":-7.1,"type":"quantitative","scale":{"domain":[-22.32,33.04],"nice":false,"zero":false},"axis":null},"text":{"field":"t","type":"nominal"}}},
  {"data":{"name":"counts"},"transform":[{"filter":"datum.p=='A'&&datum.r==2"}],"mark":{"type":"text","fontSize":4.5,"color":"#ff3030","baseline":"middle","font":"Liberation Sans"},"encoding":{"x":{"field":"i","type":"quantitative","scale":{"domain":[-3.457,13.457],"nice":false,"zero":false},"axis":null},"y":{"datum":-11.9,"type":"quantitative","scale":{"domain":[-22.32,33.04],"nice":false,"zero":false},"axis":null},"text":{"field":"g","type":"nominal"}}},
  {"data":{"name":"counts"},"transform":[{"filter":"datum.p=='A'&&datum.r==2"}],"mark":{"type":"text","fontSize":4.5,"color":"#ff3030","baseline":"middle","font":"Liberation Sans"},"encoding":{"x":{"field":"i","type":"quantitative","scale":{"domain":[-3.457,13.457],"nice":false,"zero":false},"axis":null},"y":{"datum":-16.3,"type":"quantitative","scale":{"domain":[-22.32,33.04],"nice":false,"zero":false},"axis":null},"text":{"field":"h","type":"nominal"}}},
  {"data":{"values":[{}]},"mark":{"type":"text","text":"Hit GIDs","fontSize":4.5,"color":"#333333","align":"left","baseline":"middle","font":"Liberation Sans"},"encoding":{"x":{"datum":-0.6,"type":"quantitative","scale":{"domain":[-3.457,13.457],"nice":false,"zero":false},"axis":null},"y":{"datum":-11.9,"type":"quantitative","scale":{"domain":[-22.32,33.04],"nice":false,"zero":false},"axis":null}}},
  {"data":{"values":[{}]},"mark":{"type":"text","text":"Hits","fontSize":4.5,"color":"#333333","align":"left","baseline":"middle","font":"Liberation Sans"},"encoding":{"x":{"datum":-0.6,"type":"quantitative","scale":{"domain":[-3.457,13.457],"nice":false,"zero":false},"axis":null},"y":{"datum":-16.3,"type":"quantitative","scale":{"domain":[-22.32,33.04],"nice":false,"zero":false},"axis":null}}}
 ]},
{"width":304,"height":62,
 "layer":[
  {"data":{"name":"hits"},"transform":[{"filter":"datum.p=='B'&&datum.r==2&&datum.s!='*'"}],"mark":{"type":"point","filled":true,"size":100,"opacity":1,"strokeWidth":0},"encoding":{"x":{"field":"i","type":"quantitative","scale":{"domain":[-1.114,16.257],"nice":false,"zero":false},"axis":null},"y":{"field":"v","type":"quantitative","scale":{"domain":[-21.16,34.2],"nice":false,"zero":false},"axis":null},"shape":{"field":"s","type":"nominal","scale":{"domain":["L","R","B"],"range":["M-1.3,-0.22H-0.4V0.22H-1.3Z","M0.4,-0.22H1.3V0.22H0.4Z","M-1,-0.22H1V0.22H-1Z"]},"legend":null},"color":{"field":"c","type":"nominal","scale":{"domain":["g","m","r"],"range":["#33aa22","#ff33ff","#ff0000"]},"legend":null}}},
  {"data":{"name":"chroms"},"transform":[{"filter":"datum.r==2&&datum.v>0"}],"mark":{"type":"bar","width":4,"color":{"gradient":"linear","x1":0,"y1":0,"x2":1,"y2":0,"stops":[{"offset":0,"color":"#000000"},{"offset":0.45,"color":"#111111"},{"offset":0.5,"color":"#8a8a8a"},{"offset":1,"color":"#d4d4d4"}]}},"encoding":{"x":{"field":"i","type":"quantitative","scale":{"domain":[-1.114,16.257],"nice":false,"zero":false},"axis":null},"y":{"field":"v","type":"quantitative","scale":{"domain":[-21.16,34.2],"nice":false,"zero":false},"axis":null},"y2":{"datum":0}}},
  {"data":{"name":"names"},"transform":[{"filter":"datum.r==2"}],"mark":{"type":"text","fontSize":6,"color":"#3c3cff","baseline":"middle","font":"Liberation Sans"},"encoding":{"x":{"field":"i","type":"quantitative","scale":{"domain":[-1.114,16.257],"nice":false,"zero":false},"axis":null},"y":{"datum":-7.1,"type":"quantitative","scale":{"domain":[-21.16,34.2],"nice":false,"zero":false},"axis":null},"text":{"field":"t","type":"nominal"}}},
  {"data":{"name":"counts"},"transform":[{"filter":"datum.p=='B'&&datum.r==2"}],"mark":{"type":"text","fontSize":4.5,"color":"#ff3030","baseline":"middle","font":"Liberation Sans"},"encoding":{"x":{"field":"i","type":"quantitative","scale":{"domain":[-1.114,16.257],"nice":false,"zero":false},"axis":null},"y":{"datum":-12.5,"type":"quantitative","scale":{"domain":[-21.16,34.2],"nice":false,"zero":false},"axis":null},"text":{"field":"g","type":"nominal"}}},
  {"data":{"name":"counts"},"transform":[{"filter":"datum.p=='B'&&datum.r==2"}],"mark":{"type":"text","fontSize":4.5,"color":"#ff3030","baseline":"middle","font":"Liberation Sans"},"encoding":{"x":{"field":"i","type":"quantitative","scale":{"domain":[-1.114,16.257],"nice":false,"zero":false},"axis":null},"y":{"datum":-17,"type":"quantitative","scale":{"domain":[-21.16,34.2],"nice":false,"zero":false},"axis":null},"text":{"field":"h","type":"nominal"}}},
  {"data":{"values":[{}]},"mark":{"type":"text","text":"Hit GIDs","fontSize":4.5,"color":"#333333","align":"left","baseline":"middle","font":"Liberation Sans"},"encoding":{"x":{"datum":-0.486,"type":"quantitative","scale":{"domain":[-1.114,16.257],"nice":false,"zero":false},"axis":null},"y":{"datum":-12.5,"type":"quantitative","scale":{"domain":[-21.16,34.2],"nice":false,"zero":false},"axis":null}}},
  {"data":{"values":[{}]},"mark":{"type":"text","text":"Hits","fontSize":4.5,"color":"#333333","align":"left","baseline":"middle","font":"Liberation Sans"},"encoding":{"x":{"datum":-0.486,"type":"quantitative","scale":{"domain":[-1.114,16.257],"nice":false,"zero":false},"axis":null},"y":{"datum":-17,"type":"quantitative","scale":{"domain":[-21.16,34.2],"nice":false,"zero":false},"axis":null}}}
 ]},
{"width":296,"height":78,
 "layer":[
  {"data":{"name":"hits"},"transform":[{"filter":"datum.p=='A'&&datum.r==3&&datum.s!='*'"}],"mark":{"type":"point","filled":true,"size":100,"opacity":1,"strokeWidth":0},"encoding":{"x":{"field":"i","type":"quantitative","scale":{"domain":[-3.457,13.457],"nice":false,"zero":false},"axis":null},"y":{"field":"v","type":"quantitative","scale":{"domain":[-22.95,46.7],"nice":false,"zero":false},"axis":null},"shape":{"field":"s","type":"nominal","scale":{"domain":["L","R","B"],"range":["M-1.3,-0.22H-0.4V0.22H-1.3Z","M0.4,-0.22H1.3V0.22H0.4Z","M-1,-0.22H1V0.22H-1Z"]},"legend":null},"color":{"field":"c","type":"nominal","scale":{"domain":["g","m","r"],"range":["#33aa22","#ff33ff","#ff0000"]},"legend":null}}},
  {"data":{"name":"chroms"},"transform":[{"filter":"datum.r==3&&datum.v>0"}],"mark":{"type":"bar","width":4,"color":{"gradient":"linear","x1":0,"y1":0,"x2":1,"y2":0,"stops":[{"offset":0,"color":"#000000"},{"offset":0.45,"color":"#111111"},{"offset":0.5,"color":"#8a8a8a"},{"offset":1,"color":"#d4d4d4"}]}},"encoding":{"x":{"field":"i","type":"quantitative","scale":{"domain":[-3.457,13.457],"nice":false,"zero":false},"axis":null},"y":{"field":"v","type":"quantitative","scale":{"domain":[-22.95,46.7],"nice":false,"zero":false},"axis":null},"y2":{"datum":0}}},
  {"data":{"name":"chroms"},"transform":[{"filter":"datum.r==3&&datum.v==0"}],"mark":{"type":"point","filled":true,"size":6,"color":"#000000","opacity":1},"encoding":{"x":{"field":"i","type":"quantitative","scale":{"domain":[-3.457,13.457],"nice":false,"zero":false},"axis":null},"y":{"datum":1,"type":"quantitative","scale":{"domain":[-22.95,46.7],"nice":false,"zero":false},"axis":null}}},
  {"data":{"name":"hits"},"transform":[{"filter":"datum.p=='A'&&datum.s=='*'"}],"mark":{"type":"text","text":"*","fontSize":8,"baseline":"middle","font":"Liberation Sans"},"encoding":{"x":{"field":"i","type":"quantitative","scale":{"domain":[-3.457,13.457],"nice":false,"zero":false},"axis":null},"y":{"field":"v","type":"quantitative","scale":{"domain":[-22.95,46.7],"nice":false,"zero":false},"axis":null},"color":{"field":"c","type":"nominal","scale":{"domain":["g","m","r"],"range":["#33aa22","#ff33ff","#ff0000"]},"legend":null}}},
  {"data":{"name":"names"},"transform":[{"filter":"datum.r==3"}],"mark":{"type":"text","fontSize":6,"color":"#3c3cff","baseline":"middle","font":"Liberation Sans"},"encoding":{"x":{"field":"i","type":"quantitative","scale":{"domain":[-3.457,13.457],"nice":false,"zero":false},"axis":null},"y":{"datum":-7.1,"type":"quantitative","scale":{"domain":[-22.95,46.7],"nice":false,"zero":false},"axis":null},"text":{"field":"t","type":"nominal"}}},
  {"data":{"name":"counts"},"transform":[{"filter":"datum.p=='A'&&datum.r==3"}],"mark":{"type":"text","fontSize":4.5,"color":"#ff3030","baseline":"middle","font":"Liberation Sans"},"encoding":{"x":{"field":"i","type":"quantitative","scale":{"domain":[-3.457,13.457],"nice":false,"zero":false},"axis":null},"y":{"datum":-11.9,"type":"quantitative","scale":{"domain":[-22.95,46.7],"nice":false,"zero":false},"axis":null},"text":{"field":"g","type":"nominal"}}},
  {"data":{"name":"counts"},"transform":[{"filter":"datum.p=='A'&&datum.r==3"}],"mark":{"type":"text","fontSize":4.5,"color":"#ff3030","baseline":"middle","font":"Liberation Sans"},"encoding":{"x":{"field":"i","type":"quantitative","scale":{"domain":[-3.457,13.457],"nice":false,"zero":false},"axis":null},"y":{"datum":-16.3,"type":"quantitative","scale":{"domain":[-22.95,46.7],"nice":false,"zero":false},"axis":null},"text":{"field":"h","type":"nominal"}}},
  {"data":{"values":[{}]},"mark":{"type":"text","text":"Hit GIDs","fontSize":4.5,"color":"#333333","align":"left","baseline":"middle","font":"Liberation Sans"},"encoding":{"x":{"datum":-0.6,"type":"quantitative","scale":{"domain":[-3.457,13.457],"nice":false,"zero":false},"axis":null},"y":{"datum":-11.9,"type":"quantitative","scale":{"domain":[-22.95,46.7],"nice":false,"zero":false},"axis":null}}},
  {"data":{"values":[{}]},"mark":{"type":"text","text":"Hits","fontSize":4.5,"color":"#333333","align":"left","baseline":"middle","font":"Liberation Sans"},"encoding":{"x":{"datum":-0.6,"type":"quantitative","scale":{"domain":[-3.457,13.457],"nice":false,"zero":false},"axis":null},"y":{"datum":-16.3,"type":"quantitative","scale":{"domain":[-22.95,46.7],"nice":false,"zero":false},"axis":null}}}
 ]},
{"width":304,"height":78,
 "layer":[
  {"data":{"name":"hits"},"transform":[{"filter":"datum.p=='B'&&datum.r==3&&datum.s!='*'"}],"mark":{"type":"point","filled":true,"size":100,"opacity":1,"strokeWidth":0},"encoding":{"x":{"field":"i","type":"quantitative","scale":{"domain":[-1.114,16.257],"nice":false,"zero":false},"axis":null},"y":{"field":"v","type":"quantitative","scale":{"domain":[-21.7,47.94],"nice":false,"zero":false},"axis":null},"shape":{"field":"s","type":"nominal","scale":{"domain":["L","R","B"],"range":["M-1.3,-0.22H-0.4V0.22H-1.3Z","M0.4,-0.22H1.3V0.22H0.4Z","M-1,-0.22H1V0.22H-1Z"]},"legend":null},"color":{"field":"c","type":"nominal","scale":{"domain":["g","m","r"],"range":["#33aa22","#ff33ff","#ff0000"]},"legend":null}}},
  {"data":{"name":"chroms"},"transform":[{"filter":"datum.r==3&&datum.v>0"}],"mark":{"type":"bar","width":4,"color":{"gradient":"linear","x1":0,"y1":0,"x2":1,"y2":0,"stops":[{"offset":0,"color":"#000000"},{"offset":0.45,"color":"#111111"},{"offset":0.5,"color":"#8a8a8a"},{"offset":1,"color":"#d4d4d4"}]}},"encoding":{"x":{"field":"i","type":"quantitative","scale":{"domain":[-1.114,16.257],"nice":false,"zero":false},"axis":null},"y":{"field":"v","type":"quantitative","scale":{"domain":[-21.7,47.94],"nice":false,"zero":false},"axis":null},"y2":{"datum":0}}},
  {"data":{"name":"chroms"},"transform":[{"filter":"datum.r==3&&datum.v==0"}],"mark":{"type":"point","filled":true,"size":6,"color":"#000000","opacity":1},"encoding":{"x":{"field":"i","type":"quantitative","scale":{"domain":[-1.114,16.257],"nice":false,"zero":false},"axis":null},"y":{"datum":1,"type":"quantitative","scale":{"domain":[-21.7,47.94],"nice":false,"zero":false},"axis":null}}},
  {"data":{"name":"hits"},"transform":[{"filter":"datum.p=='B'&&datum.s=='*'"}],"mark":{"type":"text","text":"*","fontSize":8,"baseline":"middle","font":"Liberation Sans"},"encoding":{"x":{"field":"i","type":"quantitative","scale":{"domain":[-1.114,16.257],"nice":false,"zero":false},"axis":null},"y":{"field":"v","type":"quantitative","scale":{"domain":[-21.7,47.94],"nice":false,"zero":false},"axis":null},"color":{"field":"c","type":"nominal","scale":{"domain":["g","m","r"],"range":["#33aa22","#ff33ff","#ff0000"]},"legend":null}}},
  {"data":{"name":"names"},"transform":[{"filter":"datum.r==3"}],"mark":{"type":"text","fontSize":6,"color":"#3c3cff","baseline":"middle","font":"Liberation Sans"},"encoding":{"x":{"field":"i","type":"quantitative","scale":{"domain":[-1.114,16.257],"nice":false,"zero":false},"axis":null},"y":{"datum":-7.1,"type":"quantitative","scale":{"domain":[-21.7,47.94],"nice":false,"zero":false},"axis":null},"text":{"field":"t","type":"nominal"}}},
  {"data":{"name":"counts"},"transform":[{"filter":"datum.p=='B'&&datum.r==3"}],"mark":{"type":"text","fontSize":4.5,"color":"#ff3030","baseline":"middle","font":"Liberation Sans"},"encoding":{"x":{"field":"i","type":"quantitative","scale":{"domain":[-1.114,16.257],"nice":false,"zero":false},"axis":null},"y":{"datum":-12.5,"type":"quantitative","scale":{"domain":[-21.7,47.94],"nice":false,"zero":false},"axis":null},"text":{"field":"g","type":"nominal"}}},
  {"data":{"name":"counts"},"transform":[{"filter":"datum.p=='B'&&datum.r==3"}],"mark":{"type":"text","fontSize":4.5,"color":"#ff3030","baseline":"middle","font":"Liberation Sans"},"encoding":{"x":{"field":"i","type":"quantitative","scale":{"domain":[-1.114,16.257],"nice":false,"zero":false},"axis":null},"y":{"datum":-17,"type":"quantitative","scale":{"domain":[-21.7,47.94],"nice":false,"zero":false},"axis":null},"text":{"field":"h","type":"nominal"}}},
  {"data":{"values":[{}]},"mark":{"type":"text","text":"Hit GIDs","fontSize":4.5,"color":"#333333","align":"left","baseline":"middle","font":"Liberation Sans"},"encoding":{"x":{"datum":-0.486,"type":"quantitative","scale":{"domain":[-1.114,16.257],"nice":false,"zero":false},"axis":null},"y":{"datum":-12.5,"type":"quantitative","scale":{"domain":[-21.7,47.94],"nice":false,"zero":false},"axis":null}}},
  {"data":{"values":[{}]},"mark":{"type":"text","text":"Hits","fontSize":4.5,"color":"#333333","align":"left","baseline":"middle","font":"Liberation Sans"},"encoding":{"x":{"datum":-0.486,"type":"quantitative","scale":{"domain":[-1.114,16.257],"nice":false,"zero":false},"axis":null},"y":{"datum":-17,"type":"quantitative","scale":{"domain":[-21.7,47.94],"nice":false,"zero":false},"axis":null}}}
 ]},
{"width":296,"height":75,
 "layer":[
  {"data":{"name":"chroms"},"transform":[{"filter":"datum.r==1&&datum.v>0"}],"mark":{"type":"bar","width":4,"color":{"gradient":"linear","x1":0,"y1":0,"x2":1,"y2":0,"stops":[{"offset":0,"color":"#000000"},{"offset":0.45,"color":"#111111"},{"offset":0.5,"color":"#8a8a8a"},{"offset":1,"color":"#d4d4d4"}]}},"encoding":{"x":{"field":"i","type":"quantitative","scale":{"domain":[-3.457,13.457],"nice":false,"zero":false},"axis":null},"y":{"field":"v","type":"quantitative","scale":{"domain":[-17,58],"nice":false,"zero":false},"axis":null},"y2":{"datum":0}}},
  {"data":{"name":"names"},"transform":[{"filter":"datum.r==1"}],"mark":{"type":"text","fontSize":6,"color":"#3c3cff","baseline":"middle","font":"Liberation Sans"},"encoding":{"x":{"field":"i","type":"quantitative","scale":{"domain":[-3.457,13.457],"nice":false,"zero":false},"axis":null},"y":{"datum":-7.5,"type":"quantitative","scale":{"domain":[-17,58],"nice":false,"zero":false},"axis":null},"text":{"field":"t","type":"nominal"}}},
  {"data":{"values":[{}]},"mark":{"type":"text","text":"(C)","fontSize":14,"fontWeight":"bold","color":"#000000","baseline":"middle","font":"Liberation Sans"},"encoding":{"x":{"datum":-0.686,"type":"quantitative","scale":{"domain":[-3.457,13.457],"nice":false,"zero":false},"axis":null},"y":{"datum":47,"type":"quantitative","scale":{"domain":[-17,58],"nice":false,"zero":false},"axis":null}}},
  {"data":{"values":[{}]},"mark":{"type":"text","text":"pDp3","fontSize":11,"fontWeight":"bold","color":"#000000","align":"left","baseline":"alphabetic","font":"Liberation Sans"},"encoding":{"x":{"datum":0.714,"type":"quantitative","scale":{"domain":[-3.457,13.457],"nice":false,"zero":false},"axis":null},"y":{"datum":46,"type":"quantitative","scale":{"domain":[-17,58],"nice":false,"zero":false},"axis":null}}}
 ]},
{"width":304,"height":75,
 "layer":[
  {"data":{"name":"hits"},"transform":[{"filter":"datum.p=='D'&&datum.r==1&&datum.s!='*'"}],"mark":{"type":"point","filled":true,"size":100,"opacity":1,"strokeWidth":0},"encoding":{"x":{"field":"i","type":"quantitative","scale":{"domain":[-1.114,16.257],"nice":false,"zero":false},"axis":null},"y":{"field":"v","type":"quantitative","scale":{"domain":[-20,55],"nice":false,"zero":false},"axis":null},"shape":{"field":"s","type":"nominal","scale":{"domain":["L","R","B"],"range":["M-1.3,-0.22H-0.4V0.22H-1.3Z","M0.4,-0.22H1.3V0.22H0.4Z","M-1,-0.22H1V0.22H-1Z"]},"legend":null},"color":{"field":"c","type":"nominal","scale":{"domain":["g","m","r"],"range":["#33aa22","#ff33ff","#ff0000"]},"legend":null}}},
  {"data":{"name":"chroms"},"transform":[{"filter":"datum.r==1&&datum.v>0"}],"mark":{"type":"bar","width":4,"color":{"gradient":"linear","x1":0,"y1":0,"x2":1,"y2":0,"stops":[{"offset":0,"color":"#000000"},{"offset":0.45,"color":"#111111"},{"offset":0.5,"color":"#8a8a8a"},{"offset":1,"color":"#d4d4d4"}]}},"encoding":{"x":{"field":"i","type":"quantitative","scale":{"domain":[-1.114,16.257],"nice":false,"zero":false},"axis":null},"y":{"field":"v","type":"quantitative","scale":{"domain":[-20,55],"nice":false,"zero":false},"axis":null},"y2":{"datum":0}}},
  {"data":{"name":"names"},"transform":[{"filter":"datum.r==1"}],"mark":{"type":"text","fontSize":6,"color":"#3c3cff","baseline":"middle","font":"Liberation Sans"},"encoding":{"x":{"field":"i","type":"quantitative","scale":{"domain":[-1.114,16.257],"nice":false,"zero":false},"axis":null},"y":{"datum":-6.5,"type":"quantitative","scale":{"domain":[-20,55],"nice":false,"zero":false},"axis":null},"text":{"field":"t","type":"nominal"}}},
  {"data":{"name":"counts"},"transform":[{"filter":"datum.p=='D'&&datum.r==1"}],"mark":{"type":"text","fontSize":4.5,"color":"#ff3030","baseline":"middle","font":"Liberation Sans"},"encoding":{"x":{"field":"i","type":"quantitative","scale":{"domain":[-1.114,16.257],"nice":false,"zero":false},"axis":null},"y":{"datum":-12,"type":"quantitative","scale":{"domain":[-20,55],"nice":false,"zero":false},"axis":null},"text":{"field":"g","type":"nominal"}}},
  {"data":{"name":"counts"},"transform":[{"filter":"datum.p=='D'&&datum.r==1"}],"mark":{"type":"text","fontSize":4.5,"color":"#ff3030","baseline":"middle","font":"Liberation Sans"},"encoding":{"x":{"field":"i","type":"quantitative","scale":{"domain":[-1.114,16.257],"nice":false,"zero":false},"axis":null},"y":{"datum":-17,"type":"quantitative","scale":{"domain":[-20,55],"nice":false,"zero":false},"axis":null},"text":{"field":"h","type":"nominal"}}},
  {"data":{"values":[{}]},"mark":{"type":"text","text":"Hit GIDs","fontSize":4.5,"color":"#333333","align":"left","baseline":"middle","font":"Liberation Sans"},"encoding":{"x":{"datum":-0.43,"type":"quantitative","scale":{"domain":[-1.114,16.257],"nice":false,"zero":false},"axis":null},"y":{"datum":-12,"type":"quantitative","scale":{"domain":[-20,55],"nice":false,"zero":false},"axis":null}}},
  {"data":{"values":[{}]},"mark":{"type":"text","text":"Hits","fontSize":4.5,"color":"#333333","align":"left","baseline":"middle","font":"Liberation Sans"},"encoding":{"x":{"datum":-0.43,"type":"quantitative","scale":{"domain":[-1.114,16.257],"nice":false,"zero":false},"axis":null},"y":{"datum":-17,"type":"quantitative","scale":{"domain":[-20,55],"nice":false,"zero":false},"axis":null}}},
  {"data":{"values":[{}]},"mark":{"type":"text","text":"(D)","fontSize":14,"fontWeight":"bold","color":"#000000","baseline":"middle","font":"Liberation Sans"},"encoding":{"x":{"datum":-0.486,"type":"quantitative","scale":{"domain":[-1.114,16.257],"nice":false,"zero":false},"axis":null},"y":{"datum":44,"type":"quantitative","scale":{"domain":[-20,55],"nice":false,"zero":false},"axis":null}}},
  {"data":{"values":[{}]},"mark":{"type":"text","text":"pDp4","fontSize":11,"fontWeight":"bold","color":"#000000","align":"left","baseline":"alphabetic","font":"Liberation Sans"},"encoding":{"x":{"datum":1.0,"type":"quantitative","scale":{"domain":[-1.114,16.257],"nice":false,"zero":false},"axis":null},"y":{"datum":43,"type":"quantitative","scale":{"domain":[-20,55],"nice":false,"zero":false},"axis":null}}}
 ]},
{"width":296,"height":51,
 "layer":[
  {"data":{"name":"chroms"},"transform":[{"filter":"datum.r==2&&datum.v>0"}],"mark":{"type":"bar","width":4,"color":{"gradient":"linear","x1":0,"y1":0,"x2":1,"y2":0,"stops":[{"offset":0,"color":"#000000"},{"offset":0.45,"color":"#111111"},{"offset":0.5,"color":"#8a8a8a"},{"offset":1,"color":"#d4d4d4"}]}},"encoding":{"x":{"field":"i","type":"quantitative","scale":{"domain":[-3.457,13.457],"nice":false,"zero":false},"axis":null},"y":{"field":"v","type":"quantitative","scale":{"domain":[-18,33],"nice":false,"zero":false},"axis":null},"y2":{"datum":0}}},
  {"data":{"name":"names"},"transform":[{"filter":"datum.r==2"}],"mark":{"type":"text","fontSize":6,"color":"#3c3cff","baseline":"middle","font":"Liberation Sans"},"encoding":{"x":{"field":"i","type":"quantitative","scale":{"domain":[-3.457,13.457],"nice":false,"zero":false},"axis":null},"y":{"datum":-7,"type":"quantitative","scale":{"domain":[-18,33],"nice":false,"zero":false},"axis":null},"text":{"field":"t","type":"nominal"}}}
 ]},
{"width":304,"height":51,
 "layer":[
  {"data":{"name":"hits"},"transform":[{"filter":"datum.p=='D'&&datum.r==2&&datum.s!='*'"}],"mark":{"type":"point","filled":true,"size":100,"opacity":1,"strokeWidth":0},"encoding":{"x":{"field":"i","type":"quantitative","scale":{"domain":[-1.114,16.257],"nice":false,"zero":false},"axis":null},"y":{"field":"v","type":"quantitative","scale":{"domain":[-17.7,33.3],"nice":false,"zero":false},"axis":null},"shape":{"field":"s","type":"nominal","scale":{"domain":["L","R","B"],"range":["M-1.3,-0.22H-0.4V0.22H-1.3Z","M0.4,-0.22H1.3V0.22H0.4Z","M-1,-0.22H1V0.22H-1Z"]},"legend":null},"color":{"field":"c","type":"nominal","scale":{"domain":["g","m","r"],"range":["#33aa22","#ff33ff","#ff0000"]},"legend":null}}},
  {"data":{"name":"chroms"},"transform":[{"filter":"datum.r==2&&datum.v>0"}],"mark":{"type":"bar","width":4,"color":{"gradient":"linear","x1":0,"y1":0,"x2":1,"y2":0,"stops":[{"offset":0,"color":"#000000"},{"offset":0.45,"color":"#111111"},{"offset":0.5,"color":"#8a8a8a"},{"offset":1,"color":"#d4d4d4"}]}},"encoding":{"x":{"field":"i","type":"quantitative","scale":{"domain":[-1.114,16.257],"nice":false,"zero":false},"axis":null},"y":{"field":"v","type":"quantitative","scale":{"domain":[-17.7,33.3],"nice":false,"zero":false},"axis":null},"y2":{"datum":0}}},
  {"data":{"name":"names"},"transform":[{"filter":"datum.r==2"}],"mark":{"type":"text","fontSize":6,"color":"#3c3cff","baseline":"middle","font":"Liberation Sans"},"encoding":{"x":{"field":"i","type":"quantitative","scale":{"domain":[-1.114,16.257],"nice":false,"zero":false},"axis":null},"y":{"datum":-7.5,"type":"quantitative","scale":{"domain":[-17.7,33.3],"nice":false,"zero":false},"axis":null},"text":{"field":"t","type":"nominal"}}},
  {"data":{"name":"counts"},"transform":[{"filter":"datum.p=='D'&&datum.r==2"}],"mark":{"type":"text","fontSize":4.5,"color":"#ff3030","baseline":"middle","font":"Liberation Sans"},"encoding":{"x":{"field":"i","type":"quantitative","scale":{"domain":[-1.114,16.257],"nice":false,"zero":false},"axis":null},"y":{"datum":-13.3,"type":"quantitative","scale":{"domain":[-17.7,33.3],"nice":false,"zero":false},"axis":null},"text":{"field":"g","type":"nominal"}}},
  {"data":{"name":"counts"},"transform":[{"filter":"datum.p=='D'&&datum.r==2"}],"mark":{"type":"text","fontSize":4.5,"color":"#ff3030","baseline":"middle","font":"Liberation Sans"},"encoding":{"x":{"field":"i","type":"quantitative","scale":{"domain":[-1.114,16.257],"nice":false,"zero":false},"axis":null},"y":{"datum":-17.6,"type":"quantitative","scale":{"domain":[-17.7,33.3],"nice":false,"zero":false},"axis":null},"text":{"field":"h","type":"nominal"}}},
  {"data":{"values":[{}]},"mark":{"type":"text","text":"Hit GIDs","fontSize":4.5,"color":"#333333","align":"left","baseline":"middle","font":"Liberation Sans"},"encoding":{"x":{"datum":-0.43,"type":"quantitative","scale":{"domain":[-1.114,16.257],"nice":false,"zero":false},"axis":null},"y":{"datum":-13.3,"type":"quantitative","scale":{"domain":[-17.7,33.3],"nice":false,"zero":false},"axis":null}}},
  {"data":{"values":[{}]},"mark":{"type":"text","text":"Hits","fontSize":4.5,"color":"#333333","align":"left","baseline":"middle","font":"Liberation Sans"},"encoding":{"x":{"datum":-0.43,"type":"quantitative","scale":{"domain":[-1.114,16.257],"nice":false,"zero":false},"axis":null},"y":{"datum":-17.6,"type":"quantitative","scale":{"domain":[-17.7,33.3],"nice":false,"zero":false},"axis":null}}}
 ]},
{"width":296,"height":84,
 "layer":[
  {"data":{"name":"hits"},"transform":[{"filter":"datum.p=='C'&&datum.r==3&&datum.s!='*'"}],"mark":{"type":"point","filled":true,"size":100,"opacity":1,"strokeWidth":0},"encoding":{"x":{"field":"i","type":"quantitative","scale":{"domain":[-3.457,13.457],"nice":false,"zero":false},"axis":null},"y":{"field":"v","type":"quantitative","scale":{"domain":[-37,47],"nice":false,"zero":false},"axis":null},"shape":{"field":"s","type":"nominal","scale":{"domain":["L","R","B"],"range":["M-1.3,-0.22H-0.4V0.22H-1.3Z","M0.4,-0.22H1.3V0.22H0.4Z","M-1,-0.22H1V0.22H-1Z"]},"legend":null},"color":{"field":"c","type":"nominal","scale":{"domain":["g","m","r"],"range":["#33aa22","#ff33ff","#ff0000"]},"legend":null}}},
  {"data":{"name":"chroms"},"transform":[{"filter":"datum.r==3&&datum.v>0"}],"mark":{"type":"bar","width":4,"color":{"gradient":"linear","x1":0,"y1":0,"x2":1,"y2":0,"stops":[{"offset":0,"color":"#000000"},{"offset":0.45,"color":"#111111"},{"offset":0.5,"color":"#8a8a8a"},{"offset":1,"color":"#d4d4d4"}]}},"encoding":{"x":{"field":"i","type":"quantitative","scale":{"domain":[-3.457,13.457],"nice":false,"zero":false},"axis":null},"y":{"field":"v","type":"quantitative","scale":{"domain":[-37,47],"nice":false,"zero":false},"axis":null},"y2":{"datum":0}}},
  {"data":{"name":"chroms"},"transform":[{"filter":"datum.r==3&&datum.v==0"}],"mark":{"type":"point","filled":true,"size":6,"color":"#000000","opacity":1},"encoding":{"x":{"field":"i","type":"quantitative","scale":{"domain":[-3.457,13.457],"nice":false,"zero":false},"axis":null},"y":{"datum":1,"type":"quantitative","scale":{"domain":[-37,47],"nice":false,"zero":false},"axis":null}}},
  {"data":{"name":"hits"},"transform":[{"filter":"datum.p=='C'&&datum.s=='*'"}],"mark":{"type":"text","text":"*","fontSize":8,"baseline":"middle","font":"Liberation Sans"},"encoding":{"x":{"field":"i","type":"quantitative","scale":{"domain":[-3.457,13.457],"nice":false,"zero":false},"axis":null},"y":{"field":"v","type":"quantitative","scale":{"domain":[-37,47],"nice":false,"zero":false},"axis":null},"color":{"field":"c","type":"nominal","scale":{"domain":["g","m","r"],"range":["#33aa22","#ff33ff","#ff0000"]},"legend":null}}},
  {"data":{"name":"names"},"transform":[{"filter":"datum.r==3"}],"mark":{"type":"text","fontSize":6,"color":"#3c3cff","baseline":"middle","font":"Liberation Sans"},"encoding":{"x":{"field":"i","type":"quantitative","scale":{"domain":[-3.457,13.457],"nice":false,"zero":false},"axis":null},"y":{"datum":-7,"type":"quantitative","scale":{"domain":[-37,47],"nice":false,"zero":false},"axis":null},"text":{"field":"t","type":"nominal"}}},
  {"data":{"name":"counts"},"transform":[{"filter":"datum.p=='C'&&datum.r==3"}],"mark":{"type":"text","fontSize":4.5,"color":"#ff3030","baseline":"middle","font":"Liberation Sans"},"encoding":{"x":{"field":"i","type":"quantitative","scale":{"domain":[-3.457,13.457],"nice":false,"zero":false},"axis":null},"y":{"datum":-12,"type":"quantitative","scale":{"domain":[-37,47],"nice":false,"zero":false},"axis":null},"text":{"field":"g","type":"nominal"}}},
  {"data":{"name":"counts"},"transform":[{"filter":"datum.p=='C'&&datum.r==3"}],"mark":{"type":"text","fontSize":4.5,"color":"#ff3030","baseline":"middle","font":"Liberation Sans"},"encoding":{"x":{"field":"i","type":"quantitative","scale":{"domain":[-3.457,13.457],"nice":false,"zero":false},"axis":null},"y":{"datum":-17,"type":"quantitative","scale":{"domain":[-37,47],"nice":false,"zero":false},"axis":null},"text":{"field":"h","type":"nominal"}}},
  {"data":{"values":[{}]},"mark":{"type":"text","text":"Hit GIDs","fontSize":4.5,"color":"#333333","align":"left","baseline":"middle","font":"Liberation Sans"},"encoding":{"x":{"datum":-0.6,"type":"quantitative","scale":{"domain":[-3.457,13.457],"nice":false,"zero":false},"axis":null},"y":{"datum":-12,"type":"quantitative","scale":{"domain":[-37,47],"nice":false,"zero":false},"axis":null}}},
  {"data":{"values":[{}]},"mark":{"type":"text","text":"Hits","fontSize":4.5,"color":"#333333","align":"left","baseline":"middle","font":"Liberation Sans"},"encoding":{"x":{"datum":-0.6,"type":"quantitative","scale":{"domain":[-3.457,13.457],"nice":false,"zero":false},"axis":null},"y":{"datum":-17,"type":"quantitative","scale":{"domain":[-37,47],"nice":false,"zero":false},"axis":null}}}
 ]},
{"hconcat": [
 {"width":171,"height":84,
  "layer":[
   {"data":{"name":"hits"},"transform":[{"filter":"datum.p=='D'&&datum.r==3&&datum.s!='*'"}],"mark":{"type":"point","filled":true,"size":100,"opacity":1,"strokeWidth":0},"encoding":{"x":{"field":"i","type":"quantitative","scale":{"domain":[-1.114,8.657],"nice":false,"zero":false},"axis":null},"y":{"field":"v","type":"quantitative","scale":{"domain":[-31,53],"nice":false,"zero":false},"axis":null},"shape":{"field":"s","type":"nominal","scale":{"domain":["L","R","B"],"range":["M-1.3,-0.22H-0.4V0.22H-1.3Z","M0.4,-0.22H1.3V0.22H0.4Z","M-1,-0.22H1V0.22H-1Z"]},"legend":null},"color":{"field":"c","type":"nominal","scale":{"domain":["g","m","r"],"range":["#33aa22","#ff33ff","#ff0000"]},"legend":null}}},
   {"data":{"name":"chroms"},"transform":[{"filter":"datum.r==3&&datum.v>0"}],"mark":{"type":"bar","width":4,"color":{"gradient":"linear","x1":0,"y1":0,"x2":1,"y2":0,"stops":[{"offset":0,"color":"#000000"},{"offset":0.45,"color":"#111111"},{"offset":0.5,"color":"#8a8a8a"},{"offset":1,"color":"#d4d4d4"}]}},"encoding":{"x":{"field":"i","type":"quantitative","scale":{"domain":[-1.114,8.657],"nice":false,"zero":false},"axis":null},"y":{"field":"v","type":"quantitative","scale":{"domain":[-31,53],"nice":false,"zero":false},"axis":null},"y2":{"datum":0}}},
   {"data":{"name":"chroms"},"transform":[{"filter":"datum.r==3&&datum.v==0"}],"mark":{"type":"point","filled":true,"size":6,"color":"#000000","opacity":1},"encoding":{"x":{"field":"i","type":"quantitative","scale":{"domain":[-1.114,8.657],"nice":false,"zero":false},"axis":null},"y":{"datum":1,"type":"quantitative","scale":{"domain":[-31,53],"nice":false,"zero":false},"axis":null}}},
   {"data":{"name":"hits"},"transform":[{"filter":"datum.p=='D'&&datum.s=='*'"}],"mark":{"type":"text","text":"*","fontSize":8,"baseline":"middle","font":"Liberation Sans"},"encoding":{"x":{"field":"i","type":"quantitative","scale":{"domain":[-1.114,8.657],"nice":false,"zero":false},"axis":null},"y":{"field":"v","type":"quantitative","scale":{"domain":[-31,53],"nice":false,"zero":false},"axis":null},"color":{"field":"c","type":"nominal","scale":{"domain":["g","m","r"],"range":["#33aa22","#ff33ff","#ff0000"]},"legend":null}}},
   {"data":{"name":"names"},"transform":[{"filter":"datum.r==3"}],"mark":{"type":"text","fontSize":6,"color":"#3c3cff","baseline":"middle","font":"Liberation Sans"},"encoding":{"x":{"field":"i","type":"quantitative","scale":{"domain":[-1.114,8.657],"nice":false,"zero":false},"axis":null},"y":{"datum":-6.5,"type":"quantitative","scale":{"domain":[-31,53],"nice":false,"zero":false},"axis":null},"text":{"field":"t","type":"nominal"}}},
   {"data":{"name":"counts"},"transform":[{"filter":"datum.p=='D'&&datum.r==3"}],"mark":{"type":"text","fontSize":4.5,"color":"#ff3030","baseline":"middle","font":"Liberation Sans"},"encoding":{"x":{"field":"i","type":"quantitative","scale":{"domain":[-1.114,8.657],"nice":false,"zero":false},"axis":null},"y":{"datum":-12,"type":"quantitative","scale":{"domain":[-31,53],"nice":false,"zero":false},"axis":null},"text":{"field":"g","type":"nominal"}}},
   {"data":{"name":"counts"},"transform":[{"filter":"datum.p=='D'&&datum.r==3"}],"mark":{"type":"text","fontSize":4.5,"color":"#ff3030","baseline":"middle","font":"Liberation Sans"},"encoding":{"x":{"field":"i","type":"quantitative","scale":{"domain":[-1.114,8.657],"nice":false,"zero":false},"axis":null},"y":{"datum":-17,"type":"quantitative","scale":{"domain":[-31,53],"nice":false,"zero":false},"axis":null},"text":{"field":"h","type":"nominal"}}},
   {"data":{"values":[{}]},"mark":{"type":"text","text":"Hit GIDs","fontSize":4.5,"color":"#333333","align":"left","baseline":"middle","font":"Liberation Sans"},"encoding":{"x":{"datum":-0.43,"type":"quantitative","scale":{"domain":[-1.114,8.657],"nice":false,"zero":false},"axis":null},"y":{"datum":-12,"type":"quantitative","scale":{"domain":[-31,53],"nice":false,"zero":false},"axis":null}}},
   {"data":{"values":[{}]},"mark":{"type":"text","text":"Hits","fontSize":4.5,"color":"#333333","align":"left","baseline":"middle","font":"Liberation Sans"},"encoding":{"x":{"datum":-0.43,"type":"quantitative","scale":{"domain":[-1.114,8.657],"nice":false,"zero":false},"axis":null},"y":{"datum":-17,"type":"quantitative","scale":{"domain":[-31,53],"nice":false,"zero":false},"axis":null}}}
  ]},
 {"width":120,"height":84,
  "data":{"name":"keys"},
  "layer":[
   {"mark":{"type":"bar"},"encoding":{"x":{"field":"k","type":"nominal","scale":{"domain":["50-80","80-200",">= 200"],"paddingInner":0,"paddingOuter":0},"axis":null},"y":{"datum":57,"type":"quantitative","scale":{"domain":[0,84],"reverse":true,"nice":false,"zero":false},"axis":null},"y2":{"datum":74},"color":{"field":"c","type":"nominal","scale":{"domain":["g","m","r"],"range":["#33aa22","#ff33ff","#ff0000"]},"legend":null}}},
   {"mark":{"type":"text","fontSize":10,"fontWeight":"bold","color":"#000000","baseline":"middle","font":"Liberation Sans"},"encoding":{"x":{"field":"k","type":"nominal","scale":{"domain":["50-80","80-200",">= 200"],"paddingInner":0,"paddingOuter":0},"axis":null},"y":{"datum":65.5,"type":"quantitative","scale":{"domain":[0,84],"reverse":true,"nice":false,"zero":false},"axis":null},"text":{"field":"k","type":"nominal"}}},
   {"data":{"values":[{}]},"mark":{"type":"text","text":"Color  key scores","fontSize":10,"fontWeight":"bold","color":"#000000","baseline":"middle","font":"Liberation Sans"},"encoding":{"x":{"datum":"80-200","type":"nominal","scale":{"domain":["50-80","80-200",">= 200"],"paddingInner":0,"paddingOuter":0},"axis":null},"y":{"datum":50,"type":"quantitative","scale":{"domain":[0,84],"reverse":true,"nice":false,"zero":false},"axis":null}}}
  ]}
], "spacing": 0, "bounds": "flush"}
]
}
